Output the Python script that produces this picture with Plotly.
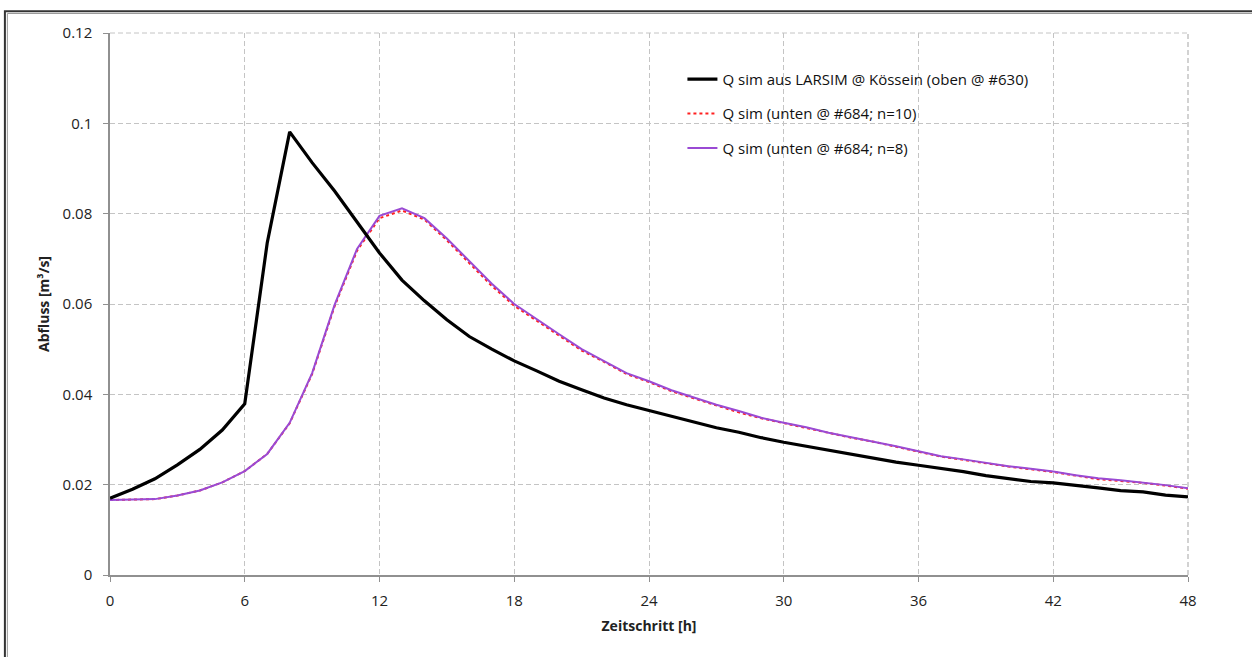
import plotly.graph_objects as go

hours = list(range(0, 49))

q_oben = [0.0170, 0.0190, 0.0213, 0.0244, 0.0278, 0.0321, 0.0379, 0.0735, 0.0981, 0.0913,
          0.0850, 0.0780, 0.0713, 0.0653, 0.0607, 0.0565, 0.0528, 0.0500, 0.0474, 0.0452,
          0.0429, 0.0410, 0.0392, 0.0377, 0.0364, 0.0351, 0.0338, 0.0326, 0.0316, 0.0304,
          0.0294, 0.0285, 0.0276, 0.0268, 0.0259, 0.0250, 0.0243, 0.0236, 0.0229, 0.0220,
          0.0213, 0.0207, 0.0204, 0.0199, 0.0193, 0.0187, 0.0184, 0.0177, 0.0173]

q_n8 = [0.0166, 0.0167, 0.0168, 0.0176, 0.0187, 0.0205, 0.0230, 0.0268, 0.0337, 0.0447,
        0.0598, 0.0722, 0.0795, 0.0812, 0.0790, 0.0745, 0.0695, 0.0645, 0.0600, 0.0566,
        0.0533, 0.0500, 0.0474, 0.0447, 0.0429, 0.0409, 0.0393, 0.0377, 0.0363, 0.0348,
        0.0337, 0.0327, 0.0315, 0.0305, 0.0296, 0.0285, 0.0274, 0.0263, 0.0256, 0.0248,
        0.0241, 0.0235, 0.0229, 0.0221, 0.0214, 0.0210, 0.0205, 0.0199, 0.0192]

q_n10 = [0.0166, 0.0167, 0.0168, 0.0176, 0.0187, 0.0205, 0.0230, 0.0268, 0.0336, 0.0445,
         0.0595, 0.0718, 0.0790, 0.0807, 0.0787, 0.0741, 0.0690, 0.0640, 0.0596, 0.0563,
         0.0530, 0.0497, 0.0472, 0.0445, 0.0427, 0.0407, 0.0391, 0.0375, 0.0360, 0.0347,
         0.0336, 0.0326, 0.0314, 0.0304, 0.0295, 0.0284, 0.0273, 0.0262, 0.0255, 0.0247,
         0.0240, 0.0234, 0.0228, 0.0220, 0.0212, 0.0208, 0.0204, 0.0198, 0.0191]

names = ["Q sim aus LARSIM @ Kössein (oben @ #630)",
         "Q sim (unten @ #684; n=10)",
         "Q sim (unten @ #684; n=8)"]

x_ticks = [0, 6, 12, 18, 24, 30, 36, 42, 48]
y_ticks = [0, 0.02, 0.04, 0.06, 0.08, 0.1, 0.12]
y_ticktext = ["0", "0.02", "0.04", "0.06", "0.08", "0.1", "0.12"]

fig = go.Figure()
fig.add_trace(go.Scatter(x=hours, y=q_n10, mode="lines", name=names[1],
                         line=dict(color="#FF2020", width=2, dash="dot"),
                         legendgroup="b", legendrank=2))
fig.add_trace(go.Scatter(x=hours, y=q_n8, mode="lines", name=names[2],
                         line=dict(color="#9A4AD4", width=2),
                         legendgroup="c", legendrank=3))
fig.add_trace(go.Scatter(x=hours, y=q_oben, mode="lines", name=names[0],
                         line=dict(color="#000000", width=3.2),
                         legendgroup="a", legendrank=1))

font_family = "Open Sans, Noto Sans, sans-serif"
grid_dash = "5px,3px"

fig.update_layout(
    width=1252, height=657,
    margin=dict(l=110, r=64, t=33, b=82),
    paper_bgcolor="white", plot_bgcolor="white",
    font=dict(family=font_family, size=15, color="#222222"),
    showlegend=True,
    legend=dict(x=0.531, y=0.945, xanchor="left", yanchor="top",
                bgcolor="rgba(255,255,255,0)", tracegroupgap=12,
                font=dict(size=15, color="#111111")),
    xaxis=dict(range=[0, 48], tickvals=x_ticks, ticktext=[str(v) for v in x_ticks],
               showgrid=True, gridcolor="#C4C4C4", griddash=grid_dash, gridwidth=1,
               showline=True, linecolor="#909090", linewidth=1.5,
               ticks="outside", ticklen=5, tickcolor="#909090",
               ticklabelstandoff=6, tickfont=dict(size=15),
               zeroline=False,
               title=dict(text="<b>Zeitschritt [h]</b>", font=dict(size=14), standoff=12)),
    yaxis=dict(range=[0, 0.12], tickvals=y_ticks, ticktext=y_ticktext,
               showgrid=True, gridcolor="#C4C4C4", griddash=grid_dash, gridwidth=1,
               showline=True, linecolor="#909090", linewidth=1.5,
               ticks="outside", ticklen=5, tickcolor="#909090",
               ticklabelstandoff=8, tickfont=dict(size=15),
               zeroline=False,
               title=dict(text="<b>Abfluss [m³/s]</b>", font=dict(size=14), standoff=10)),
    shapes=[
        dict(type="line", xref="paper", yref="paper", x0=1, x1=1, y0=0, y1=1,
             line=dict(color="#C4C4C4", width=1.5, dash=grid_dash)),
        dict(type="line", xref="paper", yref="paper", x0=0, x1=1, y0=1, y1=1,
             line=dict(color="#C4C4C4", width=1, dash=grid_dash)),
        # outer frame (double line)
        dict(type="rect", xref="paper", yref="paper",
             x0=-0.0975, x1=1.2, y0=-0.3, y1=1.04,
             line=dict(color="#333333", width=2)),
        dict(type="rect", xref="paper", yref="paper",
             x0=-0.0952, x1=1.2, y0=-0.3, y1=1.036,
             line=dict(color="#999999", width=1)),
    ],
)

fig.write_html("out.html")
